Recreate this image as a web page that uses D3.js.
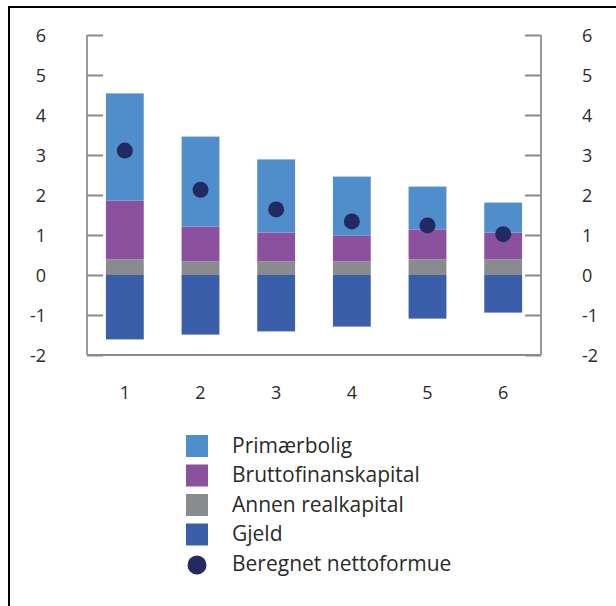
<!DOCTYPE html>
<html>
<head>
<meta charset="utf-8">
<script src="https://cdn.jsdelivr.net/npm/d3@7"></script>
<style>
  html, body { margin: 0; padding: 0; background: #fff; }
  svg { display: block; }
  text { font-family: "Open Sans", "Noto Sans", sans-serif; fill: #2a2a2a; }
</style>
</head>
<body>
<svg id="chart" width="616" height="606"></svg>
<script>
// Wealth components by group (stacked bars) and computed net wealth (dots)
const categories = ["1", "2", "3", "4", "5", "6"];
const primaerbolig = [2.68, 2.25, 1.83, 1.47, 1.07, 0.75];
const bruttofinanskapital = [1.47, 0.87, 0.72, 0.65, 0.75, 0.67];
const annenRealkapital = [0.39, 0.34, 0.34, 0.34, 0.39, 0.39];
const gjeld = [-1.61, -1.49, -1.41, -1.29, -1.09, -0.94];
const nettoformue = [3.11, 2.13, 1.64, 1.34, 1.24, 1.02];
const yTicks = [-2, -1, 0, 1, 2, 3, 4, 5, 6];

const seriesNames = ["Primærbolig", "Bruttofinanskapital", "Annen realkapital", "Gjeld"];
const dotName = "Beregnet nettoformue";
const colors = {
  "Primærbolig": "#4f8ecb",
  "Bruttofinanskapital": "#8c519e",
  "Annen realkapital": "#8a8b8e",
  "Gjeld": "#3a5ea9"
};
const dotColor = "#222a61";

const svg = d3.select("#chart");

// frame lines along the top and left edges
svg.append("line").attr("x1", 9).attr("x2", 616).attr("y1", 7).attr("y2", 7)
  .attr("stroke", "#000").attr("stroke-width", 2);
svg.append("line").attr("x1", 9).attr("x2", 9).attr("y1", 6).attr("y2", 606)
  .attr("stroke", "#000").attr("stroke-width", 2);

const plotLeft = 87, plotRight = 541, plotTop = 35, plotBottom = 355;

const x = d3.scaleBand().domain(categories).range([plotLeft, plotRight]).paddingInner(0.5).paddingOuter(0.25);
const y = d3.scaleLinear().domain([-2, 6]).range([plotBottom, plotTop]);

// stacked segments: positives stack upward from 0, gjeld downward
const rows = categories.map((c, i) => ({
  cat: c,
  "Annen realkapital": annenRealkapital[i],
  "Bruttofinanskapital": bruttofinanskapital[i],
  "Primærbolig": primaerbolig[i],
  "Gjeld": gjeld[i]
}));
const stack = d3.stack()
  .keys(["Annen realkapital", "Bruttofinanskapital", "Primærbolig", "Gjeld"])
  .offset(d3.stackOffsetDiverging);
const stacked = stack(rows);

svg.append("g").selectAll("g")
  .data(stacked)
  .join("g")
  .attr("fill", d => colors[d.key])
  .selectAll("rect")
  .data(d => d)
  .join("rect")
  .attr("x", d => x(d.data.cat))
  .attr("width", x.bandwidth())
  .attr("y", d => y(Math.max(d[0], d[1])))
  .attr("height", d => Math.abs(y(d[0]) - y(d[1])));

// axes
const axisColor = "#8a8a8a";
const leftAxis = svg.append("g").attr("transform", `translate(${plotLeft},0)`)
  .call(d3.axisRight(y).tickValues(yTicks).tickSize(16).tickFormat(""));
const rightAxis = svg.append("g").attr("transform", `translate(${plotRight},0)`)
  .call(d3.axisLeft(y).tickValues(yTicks).tickSize(16).tickFormat(""));
[leftAxis, rightAxis].forEach(g => {
  g.select(".domain").attr("stroke", "#7a7a7a").attr("stroke-width", 1.5).attr("d", `M0,${plotTop}V${plotBottom}`);
  g.selectAll(".tick line").attr("stroke", axisColor).attr("stroke-width", 2);
});
svg.append("line").attr("x1", plotLeft).attr("x2", plotRight).attr("y1", y(-2)).attr("y2", y(-2))
  .attr("stroke", axisColor).attr("stroke-width", 2);

// tick labels
svg.append("g").selectAll("text").data(yTicks).join("text")
  .attr("x", 46).attr("y", d => y(d) + 2).attr("text-anchor", "end")
  .attr("dominant-baseline", "middle").attr("font-size", 18).text(d => d);
svg.append("g").selectAll("text").data(yTicks).join("text")
  .attr("x", 582).attr("y", d => y(d) + 2).attr("text-anchor", "start")
  .attr("dominant-baseline", "middle").attr("font-size", 18).text(d => d);

// category labels
svg.append("g").selectAll("text").data(categories).join("text")
  .attr("x", d => x(d) + x.bandwidth() / 2).attr("y", 394)
  .attr("text-anchor", "middle").attr("dominant-baseline", "middle")
  .attr("font-size", 18).text(d => d);

// net wealth dots
svg.append("g").selectAll("circle").data(nettoformue).join("circle")
  .attr("cx", (d, i) => x(categories[i]) + x.bandwidth() / 2)
  .attr("cy", d => y(d))
  .attr("r", 8)
  .attr("fill", dotColor);

// legend
const legend = svg.append("g").attr("transform", "translate(186,435)");
const rowH = 29.5;
seriesNames.forEach((name, i) => {
  legend.append("rect").attr("x", 0).attr("y", i * rowH).attr("width", 22).attr("height", 22)
    .attr("fill", colors[name]);
  legend.append("text").attr("x", 46).attr("y", i * rowH + 12)
    .attr("dominant-baseline", "middle").attr("font-size", 21).text(name);
});
legend.append("circle").attr("cx", 11).attr("cy", 4 * rowH + 12).attr("r", 9.5).attr("fill", dotColor);
legend.append("text").attr("x", 46).attr("y", 4 * rowH + 12)
  .attr("dominant-baseline", "middle").attr("font-size", 21).text(dotName);
</script>
</body>
</html>
